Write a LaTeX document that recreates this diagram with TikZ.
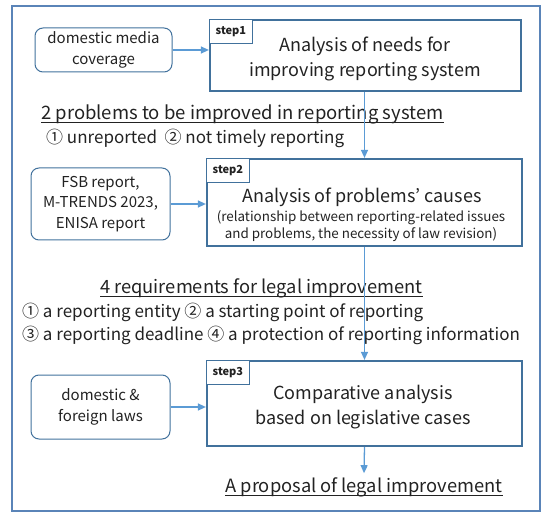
\documentclass[tikz,border=0pt]{standalone}
\usepackage{fontspec}
\setmainfont{Noto Sans CJK KR}
\usetikzlibrary{arrows.meta}
\definecolor{framecol}{HTML}{5A84B8}
\definecolor{boxcol}{HTML}{41719C}
\definecolor{flowcol}{HTML}{5B9BD5}
\definecolor{inkcol}{HTML}{222222}
\newcommand{\fs}[2]{\fontsize{#1}{#2}\selectfont}
\tikzset{
  stepbox/.style={draw=boxcol, line width=2.2pt, inner sep=0pt},
  steptag/.style={draw=boxcol, line width=1pt, fill=white, anchor=north west,
    minimum width=43pt, minimum height=24pt, inner sep=0pt,
    font=\bfseries\fs{11}{13}, text=inkcol},
  srcbox/.style={draw=boxcol, line width=1pt, rounded corners=8pt, align=center,
    inner sep=0pt, font=\fs{15}{20.5}, text=inkcol},
  steptext/.style={align=center, inner sep=0pt, font=\fs{18}{25}, text=inkcol},
  note/.style={inner sep=0pt, anchor=base west, text=inkcol},
  flow/.style={draw=flowcol, line width=1.3pt, -{Triangle[length=8pt,width=7pt]}},
  uline/.style={draw=inkcol, line width=0.8pt}
}
\begin{document}
\begin{tikzpicture}[x=1pt, y=-1pt]
  \useasboundingbox (0,0) rectangle (541,513);
  % frame
  \draw[framecol, line width=1.3pt] (12,6) rectangle (540,511);
  % steps
  \node[stepbox, minimum width=311pt, minimum height=71pt] (step1) at (365.5,55.5) {};
  \node[stepbox, minimum width=315pt, minimum height=87pt] (step2) at (364.5,202.5) {};
  \node[stepbox, minimum width=315pt, minimum height=85pt] (step3) at (364.5,403.5) {};
  \node[steptag] (tag1) at (step1.north west) {step1};
  \node[steptag] (tag2) at (step2.north west) {step2};
  \node[steptag] (tag3) at (step3.north west) {step3};
  \node[steptext] (step1txt) at (365,59) {Analysis of needs for\\improving reporting system};
  \node[steptext, anchor=base] (step2txt) at (362,203) {Analysis of problems’ causes};
  \node[steptext, font=\fs{13.4}{17}, anchor=base] (step2sub) at (361,239)
    {(relationship between reporting-related issues\\and problems, the necessity of law revision)};
  \node[steptext] (step3txt) at (363,407) {Comparative analysis\\based on legislative cases};
  % sources
  \node[srcbox, minimum width=137pt, minimum height=44pt] (media) at (103.5,50)
    {domestic media\\coverage};
  \node[srcbox, minimum width=139pt, minimum height=72pt] (reports) at (100.5,204)
    {FSB report,\\M-TRENDS 2023,\\ENISA report};
  \node[srcbox, minimum width=139pt, minimum height=64pt] (laws) at (100.5,407)
    {domestic \&\\foreign laws};
  % results
  \node[note, font=\fs{18.5}{24}] (problems) at (41,120) {2 problems to be improved in reporting system};
  \node[note, font=\fs{17}{20}] (problist) at (46,144) {① unreported \ ② not timely reporting};
  \node[note, font=\fs{18.3}{24}] (reqs) at (100,294) {4 requirements for legal improvement};
  \node[note, font=\fs{17}{20}] (reqlist1) at (22,317) {① a reporting entity ② a starting point of reporting};
  \node[note, font=\fs{17}{20}] (reqlist2) at (22,340) {③ a reporting deadline ④ a protection of reporting information};
  \node[note, font=\fs{18.3}{24}, anchor=base, outer ysep=4pt] (proposal) at (364,492) {A proposal of legal improvement};
  \draw[uline] ([yshift=-2pt]problems.base west) -- ([yshift=-2pt]problems.base east);
  \draw[uline] ([yshift=-2pt]reqs.base west) -- ([yshift=-2pt]reqs.base east);
  \draw[uline] ([yshift=-3pt]proposal.base west) -- ([yshift=-3pt]proposal.base east);
  % flow
  \draw[flow] (media.east) -- (media.east -| step1.west);
  \draw[flow] (reports.east) -- (reports.east -| step2.west);
  \draw[flow] (laws.east) -- (laws.east -| step3.west);
  \draw[flow] (step1.south -| step2.north) -- (step2.north);
  \draw[flow] (step2.south) -- (step3.north);
  \draw[flow] (step3.south) -- (proposal.north);
\end{tikzpicture}
\end{document}
